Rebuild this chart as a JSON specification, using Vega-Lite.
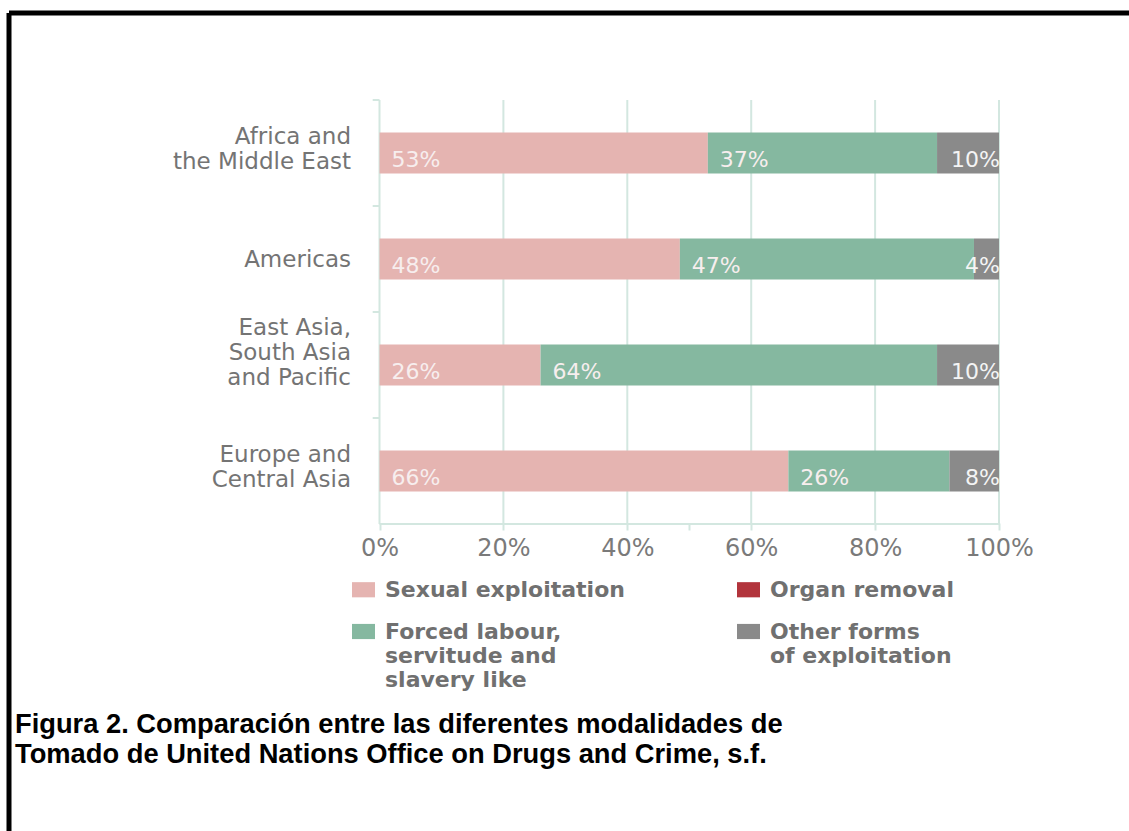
{
  "$schema": "https://vega.github.io/schema/vega-lite/v6.json",
  "width": 1120,
  "height": 818,
  "autosize": "none",
  "padding": {"left": 9, "top": 13, "right": 0, "bottom": 0},
  "background": "white",
  "config": {
    "view": {"stroke": "#000000", "strokeWidth": 5, "strokeDash": [1120, 1938, 818, 0]},
    "axis": {"title": null}
  },
  "title": {
    "text": ["Figura 2. Comparación entre las diferentes modalidades de", "Tomado de United Nations Office on Drugs and Crime, s.f."],
    "orient": "bottom",
    "anchor": "start",
    "frame": "group",
    "offset": -120,
    "dx": 6,
    "font": "Liberation Sans",
    "fontSize": 27.3,
    "fontWeight": "bold",
    "color": "#000000",
    "lineHeight": 30,
    "baseline": "top"
  },
  "datasets": {
    "shares": [
      {"region": "Africa and the Middle East", "type": "Sexual exploitation", "k": 1, "share": 0.53},
      {"region": "Africa and the Middle East", "type": "Forced labour, servitude and slavery like", "k": 3, "share": 0.37},
      {"region": "Africa and the Middle East", "type": "Other forms of exploitation", "k": 4, "share": 0.10},
      {"region": "Americas", "type": "Sexual exploitation", "k": 1, "share": 0.48},
      {"region": "Americas", "type": "Forced labour, servitude and slavery like", "k": 3, "share": 0.47},
      {"region": "Americas", "type": "Other forms of exploitation", "k": 4, "share": 0.04},
      {"region": "East Asia, South Asia and Pacific", "type": "Sexual exploitation", "k": 1, "share": 0.26},
      {"region": "East Asia, South Asia and Pacific", "type": "Forced labour, servitude and slavery like", "k": 3, "share": 0.64},
      {"region": "East Asia, South Asia and Pacific", "type": "Other forms of exploitation", "k": 4, "share": 0.10},
      {"region": "Europe and Central Asia", "type": "Sexual exploitation", "k": 1, "share": 0.66},
      {"region": "Europe and Central Asia", "type": "Forced labour, servitude and slavery like", "k": 3, "share": 0.26},
      {"region": "Europe and Central Asia", "type": "Other forms of exploitation", "k": 4, "share": 0.08}
    ],
    "grid": [{"g": 0}, {"g": 0.2}, {"g": 0.4}, {"g": 0.6}, {"g": 0.8}, {"g": 1}]
  },
  "layer": [
    {
      "data": {"name": "grid"},
      "mark": {"type": "rule", "color": "#d3e7e0", "strokeWidth": 2},
      "encoding": {
        "x": {"field": "g", "type": "quantitative", "title": null, "scale": {"domain": [0, 1], "range": [370.5, 990], "nice": false, "zero": false}},
        "y": {"datum": "Africa and the Middle East", "type": "nominal", "bandPosition": 0, "title": null, "scale": {"domain": ["Africa and the Middle East", "Americas", "East Asia, South Asia and Pacific", "Europe and Central Asia"], "range": [87, 511], "paddingInner": 0, "paddingOuter": 0}},
        "y2": {"datum": "Europe and Central Asia", "bandPosition": 1}
      }
    },
    {
      "data": {"values": [{}]},
      "mark": {"type": "rule", "color": "#d3e7e0", "strokeWidth": 2},
      "encoding": {
        "x": {"datum": 0, "type": "quantitative", "title": null, "scale": {"domain": [0, 1], "range": [370.5, 990], "nice": false, "zero": false}},
        "x2": {"datum": 1},
        "y": {"datum": "Europe and Central Asia", "type": "nominal", "bandPosition": 1, "title": null, "scale": {"domain": ["Africa and the Middle East", "Americas", "East Asia, South Asia and Pacific", "Europe and Central Asia"], "range": [87, 511], "paddingInner": 0, "paddingOuter": 0}}
      }
    },
    {
      "data": {"name": "shares"},
      "transform": [{"filter": "datum.k == 1"}],
      "mark": {"type": "rule", "color": "#d3e7e0", "strokeWidth": 2},
      "encoding": {
        "x": {"datum": -0.011, "type": "quantitative", "title": null, "scale": {"domain": [0, 1], "range": [370.5, 990], "nice": false, "zero": false}},
        "x2": {"datum": 0},
        "y": {"field": "region", "type": "nominal", "bandPosition": 0, "title": null, "scale": {"domain": ["Africa and the Middle East", "Americas", "East Asia, South Asia and Pacific", "Europe and Central Asia"], "range": [87, 511], "paddingInner": 0, "paddingOuter": 0}}
      }
    },
    {
      "data": {"name": "shares"},
      "transform": [
        {"stack": "share", "groupby": ["region"], "sort": [{"field": "k"}], "offset": "normalize", "as": ["x0", "x1"]}
      ],
      "mark": {"type": "bar", "height": {"band": 0.387}},
      "encoding": {
        "x": {
          "field": "x0", "type": "quantitative", "title": null,
          "scale": {"domain": [0, 1], "range": [370.5, 990], "nice": false, "zero": false},
          "axis": {
            "orient": "bottom", "offset": -308, "domain": false, "grid": false,
            "values": [0, 0.2, 0.4, 0.5, 0.6, 0.8, 1],
            "tickSize": 7, "tickColor": "#d3e7e0", "tickWidth": 2,
            "labelExpr": "datum.value == 0.5 ? '' : format(datum.value, '.0%')",
            "labelFont": "DejaVu Sans", "labelFontSize": 24, "labelColor": "#7a7a7a",
            "labelPadding": 6, "labelFlush": false, "labelOverlap": false
          }
        },
        "x2": {"field": "x1"},
        "y": {
          "field": "region", "type": "nominal", "title": null,
          "scale": {"domain": ["Africa and the Middle East", "Americas", "East Asia, South Asia and Pacific", "Europe and Central Asia"], "range": [87, 511], "paddingInner": 0, "paddingOuter": 0},
          "axis": {
            "orient": "left", "offset": -370.5, "domain": false, "grid": false, "ticks": false,
            "labelPadding": 29, "labelFont": "DejaVu Sans", "labelFontSize": 23, "labelColor": "#747474",
            "labelLineHeight": 25, "labelLimit": 400,
            "labelOffset": {"condition": [{"test": "datum.value == 'Americas'", "value": 1}, {"test": "datum.value == 'East Asia, South Asia and Pacific'", "value": -37}], "value": -16},
            "labelExpr": "datum.value == 'Africa and the Middle East' ? ['Africa and', 'the Middle East'] : datum.value == 'Americas' ? 'Americas' : datum.value == 'East Asia, South Asia and Pacific' ? ['East Asia,', 'South Asia', 'and Pacific'] : ['Europe and', 'Central Asia']"
          }
        },
        "color": {
          "field": "type", "type": "nominal",
          "scale": {
            "domain": ["Sexual exploitation", "Organ removal", "Forced labour, servitude and slavery like", "Other forms of exploitation"],
            "range": ["#e5b4b1", "#b2343c", "#85b8a0", "#8a8a8a"]
          },
          "legend": {
            "orient": "none", "legendX": 343, "legendY": 565, "columns": 2, "direction": "horizontal", "title": null, "padding": 0,
            "symbolType": "M-1,-0.66H1V0.66H-1Z", "symbolSize": 529, "symbolStrokeWidth": 0,
            "labelFont": "DejaVu Sans", "labelFontWeight": "bold", "labelFontSize": 22, "labelColor": "#707070",
            "labelOffset": 10, "labelBaseline": "middle", "labelLimit": 500,
            "columnPadding": 112, "rowPadding": 19,
            "labelExpr": "datum.label == 'Forced labour, servitude and slavery like' ? ['Forced labour,', 'servitude and', 'slavery like'] : datum.label == 'Other forms of exploitation' ? ['Other forms', 'of exploitation'] : datum.label",
            "encode": {"labels": {"update": {"lineHeight": {"value": 24}}}}
          }
        }
      }
    },
    {
      "data": {"name": "shares"},
      "transform": [
        {"stack": "share", "groupby": ["region"], "sort": [{"field": "k"}], "offset": "normalize", "as": ["x0", "x1"]},
        {"filter": "datum.k < 4"}
      ],
      "mark": {"type": "text", "align": "left", "baseline": "alphabetic", "dx": 12, "dy": 14, "font": "DejaVu Sans", "fontSize": 22, "color": "#f7eeee"},
      "encoding": {
        "x": {"field": "x0", "type": "quantitative", "title": null, "scale": {"domain": [0, 1], "range": [370.5, 990], "nice": false, "zero": false}},
        "y": {"field": "region", "type": "nominal", "title": null, "scale": {"domain": ["Africa and the Middle East", "Americas", "East Asia, South Asia and Pacific", "Europe and Central Asia"], "range": [87, 511], "paddingInner": 0, "paddingOuter": 0}},
        "text": {"field": "share", "type": "quantitative", "format": ".0%"}
      }
    },
    {
      "data": {"name": "shares"},
      "transform": [
        {"stack": "share", "groupby": ["region"], "sort": [{"field": "k"}], "offset": "normalize", "as": ["x0", "x1"]},
        {"filter": "datum.k == 4"}
      ],
      "mark": {"type": "text", "align": "right", "baseline": "alphabetic", "dx": 1, "dy": 14, "font": "DejaVu Sans", "fontSize": 22, "color": "#f4f4f4"},
      "encoding": {
        "x": {"field": "x1", "type": "quantitative", "title": null, "scale": {"domain": [0, 1], "range": [370.5, 990], "nice": false, "zero": false}},
        "y": {"field": "region", "type": "nominal", "title": null, "scale": {"domain": ["Africa and the Middle East", "Americas", "East Asia, South Asia and Pacific", "Europe and Central Asia"], "range": [87, 511], "paddingInner": 0, "paddingOuter": 0}},
        "text": {"field": "share", "type": "quantitative", "format": ".0%"}
      }
    }
  ]
}
